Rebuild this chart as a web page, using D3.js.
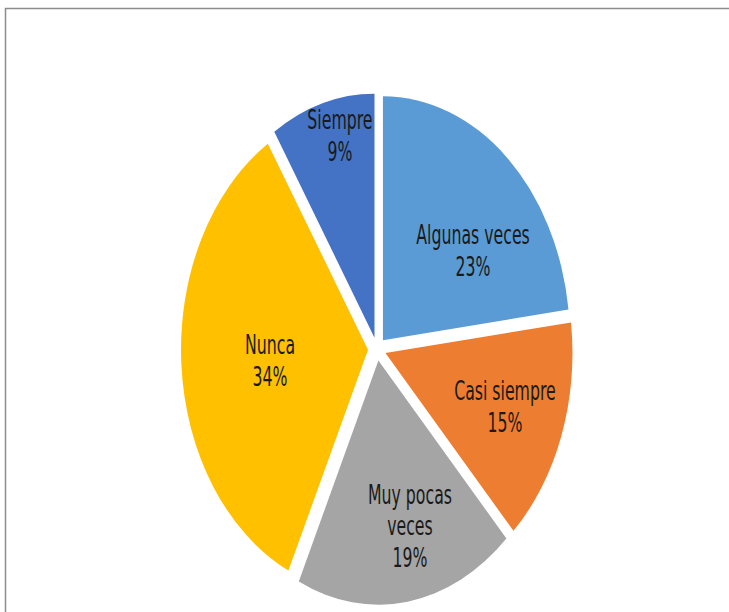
<!DOCTYPE html>
<html>
<head>
<meta charset="utf-8">
<script src="https://cdn.jsdelivr.net/npm/d3@7"></script>
<style>
  html, body { margin: 0; padding: 0; background: #fff; }
  svg { display: block; }
  text { font-family: "Liberation Sans Narrow", "Arial Narrow", "DejaVu Sans Condensed", sans-serif; fill: #1a1a1a; }
</style>
</head>
<body>
<svg id="chart" width="729" height="612"></svg>
<script>
// Survey answer categories, in drawing order (clockwise from 12 o'clock)
const categories = ["Algunas veces", "Casi siempre", "Muy pocas veces", "Nunca", "Siempre"];
const percentages = [23, 15, 19, 34, 9];
const labelLines = [["Algunas veces"], ["Casi siempre"], ["Muy pocas", "veces"], ["Nunca"], ["Siempre"]];
const colors = ["#5B9BD5", "#ED7D31", "#A5A5A5", "#FFC000", "#4472C4"];

// Layout
const W = 729, H = 612;
const cx = 377, cy = 349;
const r = 187;            // horizontal radius
const yStretch = 1.305;   // the pie is drawn taller than wide
const explode = 9;        // distance each slice is pulled out
// label placement: fraction of radius and angular nudge (degrees)
const labelRadius = [0.605, 0.676, 0.698, 0.526, 0.847];
const labelNudge = [11.4, -0.7, -5, -1.4, 3.6];
const fontSize = 17.5;
const textStretch = 1.5;
const lineH = 21;

const svg = d3.select("#chart");

// frame around the chart area
svg.append("rect")
  .attr("x", 5.5).attr("y", 8.5)
  .attr("width", W + 20).attr("height", H + 20)
  .attr("fill", "#fff")
  .attr("stroke", "#8c8c8c")
  .attr("stroke-width", 1.5);

const pie = d3.pie().sort(null).value(d => d.value);
const data = pie(categories.map((c, i) => ({ name: c, value: percentages[i], i })));
const arc = d3.arc().innerRadius(0).outerRadius(r);

const pieG = svg.append("g")
  .attr("transform", `translate(${cx},${cy}) scale(1,${yStretch})`);

pieG.selectAll("path")
  .data(data)
  .join("path")
  .attr("d", arc)
  .attr("fill", d => colors[d.data.i])
  .attr("transform", d => {
    const m = (d.startAngle + d.endAngle) / 2;
    return `translate(${explode * Math.sin(m)},${-explode * Math.cos(m)})`;
  });

// labels: category name and percentage
data.forEach(d => {
  const i = d.data.i;
  const m = (d.startAngle + d.endAngle) / 2;
  const a = m + labelNudge[i] * Math.PI / 180;
  const rr = labelRadius[i] * r;
  const x = cx + explode * Math.sin(m) + rr * Math.sin(a);
  const y = cy + yStretch * (-explode * Math.cos(m) - rr * Math.cos(a));
  const lines = labelLines[i].concat([d.data.value + "%"]);
  const g = svg.append("g").attr("transform", `translate(${x},${y}) scale(1,${textStretch})`);
  const t = g.append("text")
    .attr("text-anchor", "middle")
    .attr("font-size", fontSize);
  lines.forEach((ln, k) => {
    t.append("tspan")
      .attr("x", 0)
      .attr("y", (k - (lines.length - 1) / 2) * lineH)
      .attr("dy", "0.35em")
      .text(ln);
  });
});
</script>
</body>
</html>
